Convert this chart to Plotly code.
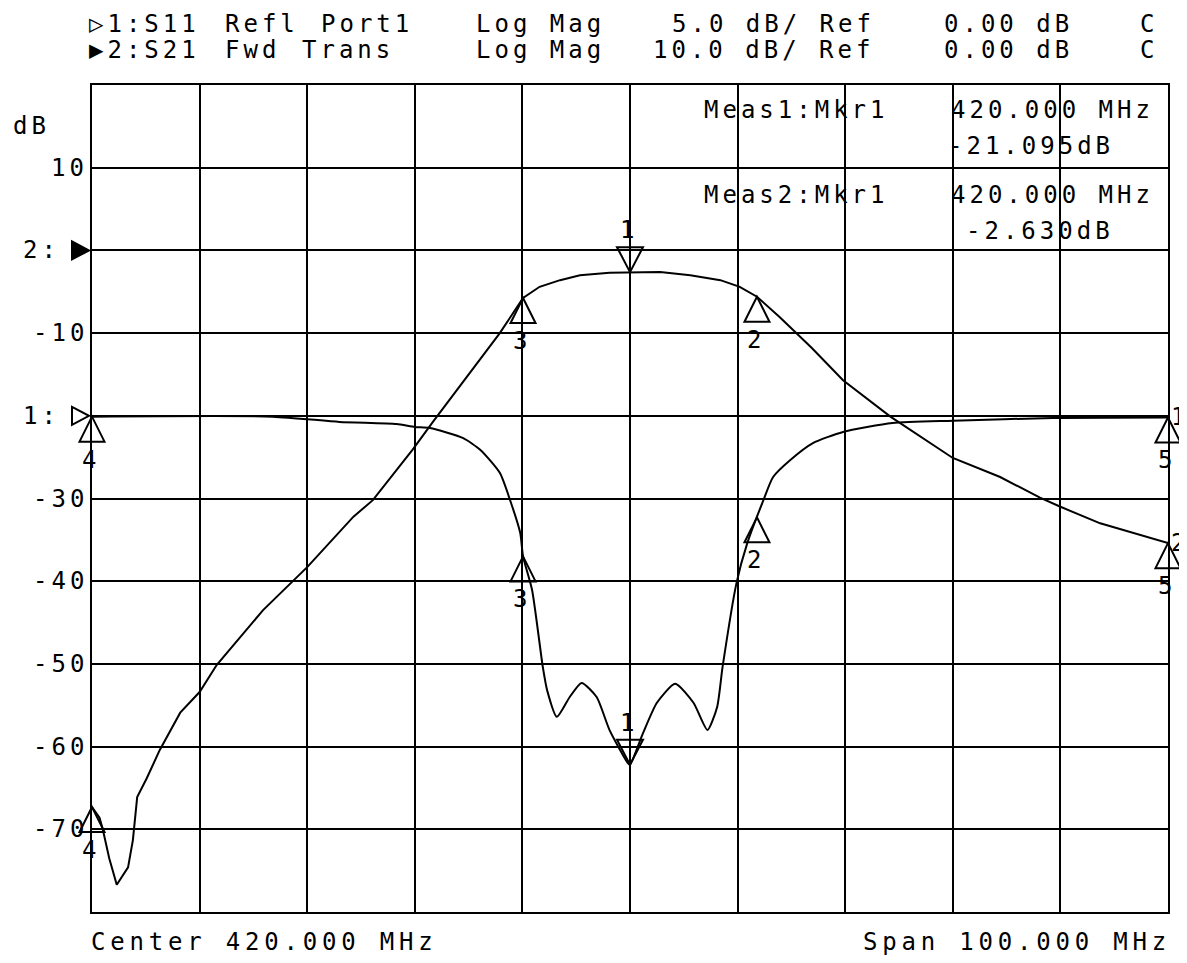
import numpy as np
import plotly.graph_objects as go

# ---------------- stimulus / display settings ----------------
center_mhz = 420.0
span_mhz = 100.0
f_start = center_mhz - span_mhz / 2
f_stop = center_mhz + span_mhz / 2

grid_div = 10.0             # display units per division (y axis)
s11_scale = 5.0             # dB/div
s11_ref_val = 0.0           # dB
s11_ref_pos = -20.0         # grid position of S11 reference line
s21_scale = 10.0
s21_ref_val = 0.0
s21_ref_pos = 0.0

# ---------------- trace data ----------------
s21_freq = [370.0, 370.7, 371.0, 371.6, 372.3, 373.35, 373.8, 374.2, 375.1, 375.7,
            376.3, 378.2, 380.0, 381.6, 385.9, 390.0, 394.3, 396.1, 399.8, 401.7,
            403.9, 407.9, 410.06, 411.6, 413.5, 415.35, 418.1, 420.0, 422.8, 425.6,
            428.4, 430.2, 431.8, 433.9, 436.9, 439.8, 444.2, 450.0, 454.4, 458.1,
            460.0, 463.7, 470.0]
s21_db = [-67.3, -68.6, -70.0, -73.5, -76.7, -74.6, -71.3, -66.1, -63.8, -62.0,
          -60.4, -55.9, -53.4, -50.1, -43.5, -38.3, -32.2, -30.2, -24.1, -20.7,
          -16.9, -10.0, -5.76, -4.4, -3.6, -3.0, -2.7, -2.63, -2.6, -3.0,
          -3.6, -4.4, -5.6, -8.05, -11.8, -15.7, -20.1, -25.1, -27.4, -29.9,
          -31.0, -33.0, -35.4]

s11_freq = [370.0, 386.8, 393.0, 398.3, 400.0, 401.4, 404.5, 406.1, 407.9, 408.85,
            409.8, 410.06, 410.9, 411.9, 412.3, 413.2, 414.4, 415.5, 416.9, 418.1,
            419.8, 420.0, 421.2, 422.5, 424.2, 425.9, 427.2, 428.1, 428.6, 429.9,
            430.9, 432.4, 433.3, 434.9, 437.0, 439.8, 444.4, 450.0, 459.3, 470.0]
s11_db = [-0.05, -0.05, -0.37, -0.5, -0.68, -0.74, -1.35, -2.07, -3.45, -5.09,
          -7.09, -8.5, -10.53, -15.2, -16.6, -18.2, -17.0, -16.15, -17.0, -19.0,
          -21.0, -21.095, -19.2, -17.35, -16.2, -17.35, -19.0, -17.6, -15.2, -10.1,
          -7.7, -5.1, -3.7, -2.67, -1.65, -0.98, -0.44, -0.3, -0.13, -0.1]

marker_ids = [1, 2, 3, 4, 5]
marker_freq = [420.0, 431.8, 410.06, 370.0, 470.0]
active_marker = 1

ytick_vals = [10, -10, -30, -40, -50, -60, -70]
ytick_text = ["10", "-10", "-30", "-40", "-50", "-60", "-70"]

# ---------------- conversions to display grid ----------------
s11_disp = s11_ref_pos + (np.array(s11_db) - s11_ref_val) * grid_div / s11_scale
s21_disp = s21_ref_pos + (np.array(s21_db) - s21_ref_val) * grid_div / s21_scale

# page geometry (the page body has an 8px margin)
PAGE_W, PAGE_H = 1187, 963
BODY = 8
W, H = PAGE_W - BODY, PAGE_H - BODY
PX0, PX1, PY0, PY1 = 92, 1168, 85, 912       # plot box in page pixels
L, T = PX0 - BODY, PY0 - BODY
R, B = W - (PX1 - BODY), H - (PY1 - BODY)
PW, PH = PX1 - PX0, PY1 - PY0

FONT = "DejaVu Sans Mono"
FS = 24
SPACING = 4
BLACK = "#000000"


def sp(s, spacing=SPACING):
    return '<span style="letter-spacing:%.1fpx">%s</span>' % (spacing, s)


def px(xp, yp):
    return (xp - PX0) / PW, (PY1 - yp) / PH


def fpaper(f):
    return (f - f_start) / (f_stop - f_start)


fig = go.Figure()
fig.add_trace(go.Scatter(x=s21_freq, y=s21_disp, mode="lines", name="S21",
                         line=dict(color=BLACK, width=2), hoverinfo="skip"))
fig.add_trace(go.Scatter(x=s11_freq, y=s11_disp, mode="lines", name="S11",
                         line=dict(color=BLACK, width=2, shape="spline", smoothing=0.6),
                         hoverinfo="skip"))

annotations = []
shapes = []


def text_at(xp, yp, s, xanchor="left", yanchor="middle", spacing=SPACING):
    xx, yy = px(xp, yp)
    annotations.append(dict(x=xx, y=yy, xref="paper", yref="paper", text=sp(s, spacing),
                            showarrow=False, xanchor=xanchor, yanchor=yanchor, borderpad=0,
                            font=dict(family=FONT, size=FS, color=BLACK)))


# header (word columns)
hdr1 = ["\u25b71:S11", "Refl", "Port1", "Log Mag", f"{s11_scale:.1f} dB/ Ref", f"{s11_ref_val:.2f} dB", "C"]
hdr1_x = [88, 224, 320, 475, 671, 943, 1139]
hdr2 = ["\u25b62:S21", "Fwd", "Trans", "Log Mag", f"{s21_scale:.1f} dB/ Ref", f"{s21_ref_val:.2f} dB", "C"]
hdr2_x = [88, 224, 301, 475, 652, 943, 1139]
for s, xp in zip(hdr1, hdr1_x):
    text_at(xp, 24, s)
for s, xp in zip(hdr2, hdr2_x):
    text_at(xp, 50, s)

# measurement readouts
s11_mk1 = float(np.interp(marker_freq[0], s11_freq, s11_db))
s21_mk1 = float(np.interp(marker_freq[0], s21_freq, s21_db))
text_at(703, 110, "Meas1:Mkr1")
text_at(950, 110, f"{marker_freq[0]:.3f} MHz")
text_at(1115, 146, f"{s11_mk1:.3f}dB", xanchor="right")
text_at(703, 195, "Meas2:Mkr1")
text_at(950, 195, f"{marker_freq[0]:.3f} MHz")
text_at(1115, 231, f"{s21_mk1:.3f}dB", xanchor="right")

# footer
text_at(90, 942, f"Center {center_mhz:.3f} MHz", spacing=4.8)
text_at(1172, 942, f"Span {span_mhz:.3f} MHz", xanchor="right", spacing=4.8)

# y labels
text_at(12, 126, "dB")
for v, t in zip(ytick_vals, ytick_text):
    annotations.append(dict(x=0, y=v, xref="paper", yref="y", text=sp(t), showarrow=False,
                            xanchor="right", yanchor="middle", xshift=-2,
                            font=dict(family=FONT, size=FS, color=BLACK)))

# reference position indicators
for label, pos, filled in [("2:", s21_ref_pos, True), ("1:", s11_ref_pos, False)]:
    annotations.append(dict(x=0, y=pos, xref="paper", yref="y", text=sp(label), showarrow=False,
                            xanchor="right", yanchor="middle", xshift=-30,
                            font=dict(family=FONT, size=FS, color=BLACK)))
    shapes.append(dict(type="path", xref="paper", yref="y", xsizemode="pixel", ysizemode="pixel",
                       xanchor=0, yanchor=pos, path="M-20,9 L-3,0 L-20,-9 Z",
                       line=dict(color=BLACK, width=2),
                       fillcolor=BLACK if filled else "rgba(0,0,0,0)"))

# markers on both traces
for tr_freq, tr_disp in [(s21_freq, s21_disp), (s11_freq, s11_disp)]:
    for mid, mf in zip(marker_ids, marker_freq):
        mv = float(np.interp(mf, tr_freq, tr_disp))
        xa = fpaper(mf)
        if mid == active_marker:
            path = "M0,0 L-13,25 L13,25 Z"
            yanchor, yshift = "bottom", 26
        else:
            path = "M0,0 L-12.5,-25 L12.5,-25 Z"
            yanchor, yshift = "top", -27
        shapes.append(dict(type="path", xref="paper", yref="y", xsizemode="pixel",
                           ysizemode="pixel", xanchor=xa, yanchor=mv, path=path,
                           line=dict(color=BLACK, width=2), fillcolor="rgba(0,0,0,0)"))
        annotations.append(dict(x=xa, y=mv, xref="paper", yref="y", text=str(mid),
                                showarrow=False, xanchor="center", yanchor=yanchor,
                                xshift=-3, yshift=yshift,
                                font=dict(family=FONT, size=FS, color=BLACK)))

# trace number labels at right end
for num, tr_disp in [("1", s11_disp), ("2", s21_disp)]:
    annotations.append(dict(x=1, y=float(tr_disp[-1]), xref="paper", yref="y", text=num,
                            showarrow=False, xanchor="left", yanchor="middle", xshift=1,
                            font=dict(family=FONT, size=FS, color=BLACK)))

axis_common = dict(showgrid=True, gridcolor=BLACK, gridwidth=2, zeroline=False,
                   showline=True, linecolor=BLACK, linewidth=2, mirror=True,
                   ticks="", showticklabels=False, fixedrange=True)

fig.update_layout(
    width=W, height=H, autosize=False,
    margin=dict(l=L, r=R, t=T, b=B, pad=0),
    paper_bgcolor="white", plot_bgcolor="white",
    showlegend=False,
    xaxis=dict(range=[f_start, f_stop], dtick=span_mhz / 10, tick0=f_start, **axis_common),
    yaxis=dict(range=[-80, 20], dtick=grid_div, tick0=0, **axis_common),
    annotations=annotations,
    shapes=shapes,
)

fig.write_html("out.html", config={"displayModeBar": False})
